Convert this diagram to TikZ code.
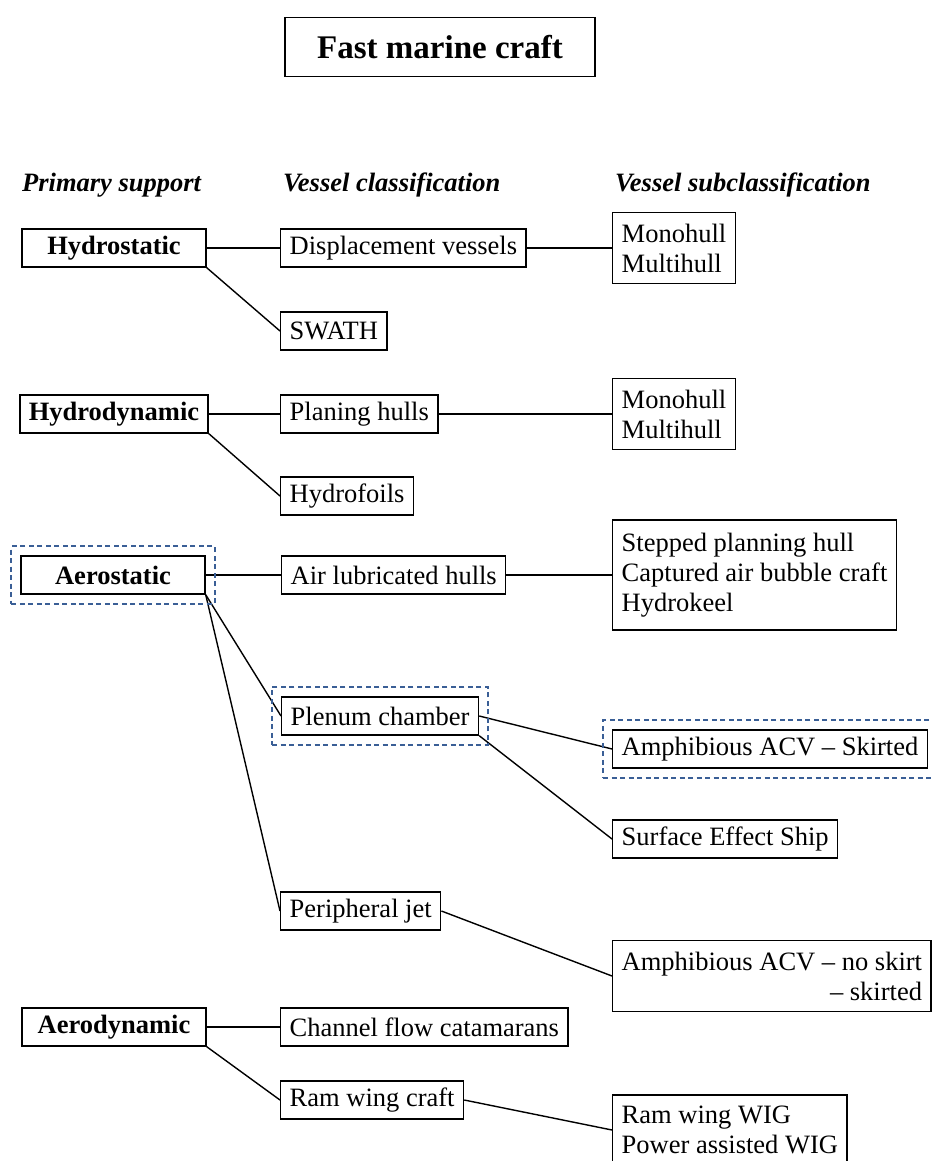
\documentclass[tikz,border=0pt]{standalone}
\usepackage{fontspec}
\setmainfont{Liberation Serif}
\usepackage{tikz}
\usetikzlibrary{fit}
\definecolor{hiblue}{RGB}{58,95,150}
\tikzset{
    box/.style={draw, line width=1.4pt, inner xsep=9pt, inner ysep=4pt, minimum height=38pt,
        font=\fontsize{26.5}{30}\selectfont},
    primbox/.style={box, minimum width=184pt, font=\fontsize{26.5}{30}\selectfont\bfseries},
    subbox/.style={box, align=left, anchor=west},
    multi/.style={inner ysep=11pt},
    head/.style={anchor=west, inner sep=0pt, font=\fontsize{26.5}{30}\selectfont\bfseries\itshape},
    hilite/.style={draw=hiblue, line width=1.8pt, dash pattern={on 5pt off 3.5pt}, inner sep=9pt},
    link/.style={line width=1.4pt}
}

\begin{document}
\begin{tikzpicture}[x=1pt, y=-1pt]
    \useasboundingbox (0,0) rectangle (931,1161);

    % Title
    \node[box, minimum width=310pt, minimum height=59pt, font=\fontsize{33}{36}\selectfont\bfseries] (title) at (440,47) {Fast marine craft};

    % Column heads
    \node[head] (hprim) at (22,185) {Primary support};
    \node[head] (hcls) at (283,185) {Vessel classification};
    \node[head] (hsub) at (615,185) {Vessel subclassification};

    % Primary support
    \node[primbox] (hstat) at (114,248) {Hydrostatic};
    \node[primbox] (hdyn) at (114,414) {Hydrodynamic};
    \node[primbox] (aero) at (113,575) {Aerostatic};
    \node[primbox] (adyn) at (114,1027) {Aerodynamic};

    % Vessel classification
    \node[subbox] (disp) at (280,248) {Displacement vessels};
    \node[subbox] (swath) at (280,331) {SWATH};
    \node[subbox] (plan) at (280,414) {Planing hulls};
    \node[subbox] (foil) at (280,496) {Hydrofoils};
    \node[subbox] (airlub) at (281,575) {Air lubricated hulls};
    \node[subbox] (plenum) at (281,716) {Plenum chamber};
    \node[subbox] (perij) at (280,911) {Peripheral jet};
    \node[subbox] (chan) at (280,1027) {Channel flow catamarans};
    \node[subbox] (ramc) at (280,1100) {Ram wing craft};

    % Vessel subclassification
    \node[subbox, multi] (monoA) at (612,248) {Monohull\\Multihull};
    \node[subbox, multi] (monoB) at (612,414) {Monohull\\Multihull};
    \node[subbox, multi, inner ysep=13pt] (stepped) at (612,575) {Stepped planning hull\\Captured air bubble craft\\Hydrokeel};
    \node[subbox] (ampsk) at (612,749) {Amphibious ACV -- Skirted};
    \node[subbox] (ses) at (612,839) {Surface Effect Ship};
    \node[subbox, multi, align=right] (ampns) at (612,976) {Amphibious ACV -- no skirt\\-- skirted};
    \node[subbox, multi] (ramwig) at (612,1130) {Ram wing WIG\\Power assisted WIG};

    % Links
    \foreach \a/\b in {hstat.east/disp.west, hstat.south east/swath.west, disp.east/monoA.west,
                       hdyn.east/plan.west, hdyn.south east/foil.west, plan.east/monoB.west,
                       aero.east/airlub.west, airlub.east/stepped.west,
                       aero.south east/plenum.west, aero.south east/perij.west,
                       plenum.east/ampsk.west, plenum.south east/ses.west, perij.east/ampns.west,
                       adyn.east/chan.west, adyn.south east/ramc.west, ramc.east/ramwig.west}{
        \draw[link] (\a) -- (\b);
    }

    % Highlights
    \node[hilite, fit=(aero)] (aerohl) {};
    \node[hilite, fit=(plenum)] (plenumhl) {};
    \node[hilite, fit=(ampsk)] (ampskhl) {};

\end{tikzpicture}
\end{document}
